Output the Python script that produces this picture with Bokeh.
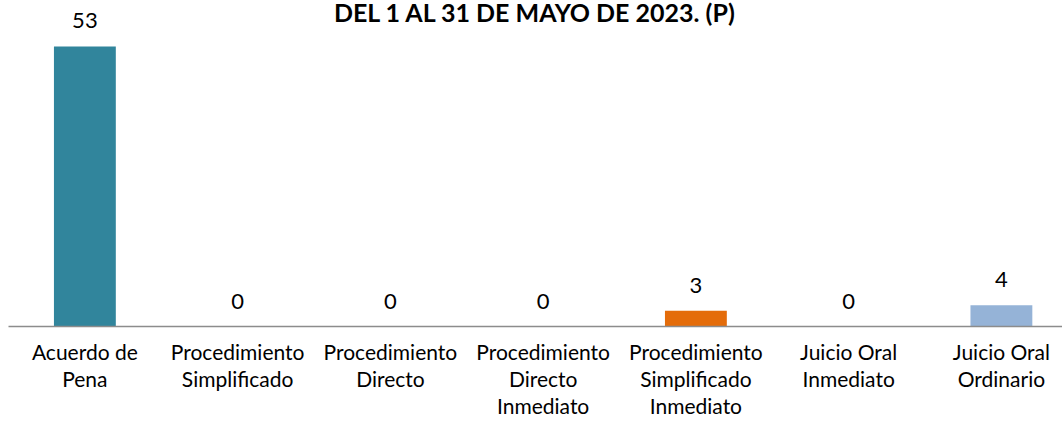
from bokeh.plotting import figure
from bokeh.models import Range1d, FixedTicker, Label, ColumnDataSource
from bokeh.core.properties import value
from bokeh.embed import file_html
from bokeh.resources import INLINE

title = "DEL 1 AL 31 DE MAYO DE 2023. (P)"
categories = ["Acuerdo de\nPena", "Procedimiento\nSimplificado", "Procedimiento\nDirecto",
              "Procedimiento\nDirecto\nInmediato", "Procedimiento\nSimplificado\nInmediato",
              "Juicio Oral\nInmediato", "Juicio Oral\nOrdinario"]
values = [53, 0, 0, 0, 3, 0, 4]
colors = ["#31859C", "#31859C", "#31859C", "#31859C", "#E46C0A", "#95B3D7", "#95B3D7"]

FONT = "Lato"
idx = list(range(len(categories)))
src = ColumnDataSource(dict(x=idx, top=values, color=colors, lbl=[str(v) for v in values]))

x0, x1 = -0.5, 6.4
y1 = 61.7
p = figure(width=1062, height=421, output_backend="svg", toolbar_location=None,
           x_range=Range1d(x0, x1), y_range=Range1d(0, y1),
           min_border_left=8, min_border_right=0, min_border_top=0, min_border_bottom=95)
p.outline_line_color = None
p.grid.grid_line_color = None
p.yaxis.visible = False
p.background_fill_color = "white"

p.vbar(x="x", top="top", width=0.405, color="color", source=src, line_color=None)
p.text(x="x", y="top", text="lbl", source=src, text_align="center", text_baseline="bottom",
       y_offset=-18, text_font=value(FONT), text_font_size="22px", text_color="#000000")

ax = p.xaxis[0]
ax.ticker = FixedTicker(ticks=idx)
ax.major_label_overrides = {i: c for i, c in zip(idx, categories)}
ax.major_tick_line_color = None
ax.minor_tick_line_color = None
ax.axis_line_color = "#8C8C8C"
ax.axis_line_width = 1.5
ax.major_label_text_font = FONT
ax.major_label_text_font_size = "21px"
ax.major_label_text_line_height = 1.08
ax.major_label_text_color = "#000000"
ax.major_label_standoff = 6

p.add_layout(Label(x=(x0 + x1) / 2, y=y1 - 11.5 / 5.283, text=title, text_align="center",
                   text_baseline="alphabetic", text_font=FONT, text_font_style="bold",
                   text_font_size="25px", text_color="#000000"))

open("out.html", "w").write(file_html(p, INLINE))
